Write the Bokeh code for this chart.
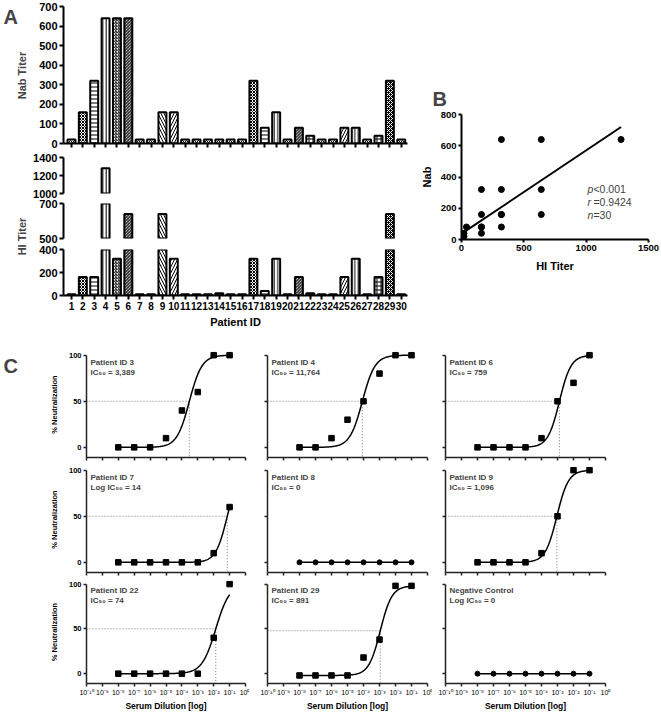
import numpy as np
from bokeh.plotting import figure
from bokeh.models import Range1d, FixedTicker, ColumnDataSource, Label, CustomJSTickFormatter
from bokeh.layouts import row, column
from bokeh.embed import file_html
from bokeh.resources import INLINE

FONT = "Liberation Sans"

# ---------------- data ----------------
patients = list(range(1, 31))
nab_titer = [20, 160, 320, 640, 640, 640, 20, 20, 160, 160, 20, 20, 20, 20, 20,
             20, 320, 80, 160, 20, 80, 40, 20, 20, 80, 80, 20, 40, 320, 20]
hi_titer = [10, 160, 160, 1280, 320, 640, 10, 10, 640, 320, 10, 10, 10, 20, 10,
            10, 320, 40, 320, 10, 160, 20, 10, 10, 160, 320, 10, 160, 640, 10]
nab_ticks = [0, 100, 200, 300, 400, 500, 600, 700]
hi_top_ticks = [1000, 1200, 1400]
hi_mid_ticks = [500, 700]
hi_bot_ticks = [0, 200, 400]
b_xticks = [0, 500, 1000, 1500]
b_yticks = [0, 200, 400, 600, 800]
stats_lines = [("p", "<0.001"), ("r", "=0.9424"), ("n", "=30")]

dilutions = [1e-8, 1e-7, 1e-6, 1e-5, 1e-4, 1e-3, 1e-2, 1e-1]
dil_ticks = [1e-10, 1e-9, 1e-8, 1e-7, 1e-6, 1e-5, 1e-4, 1e-3, 1e-2, 1e-1, 1e0]
neut_ticks = [0, 50, 100]
c_names = ["Patient ID 3", "Patient ID 4", "Patient ID 6",
           "Patient ID 7", "Patient ID 8", "Patient ID 9",
           "Patient ID 22", "Patient ID 29", "Negative Control"]
c_ic50_text = ["IC\u2085\u2080 = 3,389", "IC\u2085\u2080 = 11,764", "IC\u2085\u2080 = 759",
               "Log IC\u2085\u2080 = 14", "IC\u2085\u2080 = 0", "IC\u2085\u2080 = 1,096",
               "IC\u2085\u2080 = 74", "IC\u2085\u2080 = 891", "Log IC\u2085\u2080 = 0"]
neut_p3 = [0, 0, 0, 10, 40, 60, 100, 100]
neut_p4 = [0, 0, 10, 30, 50, 80, 100, 100]
neut_p6 = [0, 0, 0, 0, 10, 50, 70, 100]
neut_p7 = [0, 0, 0, 0, 0, 0, 10, 60]
neut_p8 = [0, 0, 0, 0, 0, 0, 0, 0]
neut_p9 = [0, 0, 0, 0, 10, 50, 100, 100]
neut_p22 = [0, 0, 0, 0, 0, 0, 40, 100]
neut_p29 = [-2, -2, -2, -2, 18, 38, 98, 98]
neut_neg = [0, 0, 0, 0, 0, 0, 0, 0]
c_values = [neut_p3, neut_p4, neut_p6, neut_p7, neut_p8, neut_p9, neut_p22, neut_p29, neut_neg]
# fitted IC50 titers (reciprocal dilution) and hill slopes; None = no fit
c_ic50 = [3389, 11764, 759, 14, None, 1096, 74, 891, None]
c_hill = [1.1, 1.1, 1.2, 1.2, None, 1.2, 1.0, 1.2, None]
c_bottom = [0, 0, 0, 0, None, 0, 0, -2, None]
c_top = [100, 100, 100, 100, None, 100, 100, 98, None]

# ---------------- styles ----------------
bar_hatch = ["x", "x", "-", "|", "/", "\\", "x", "x", "\\", "/",
             "x", "x", "x", "x", "x", "x", "x", "-", "|", "x",
             "\\", "+", "x", "x", "/", "|", "x", "+", "x", "x"]
bar_hscale = [4, 3, 4, 3.5, 3, 3, 4, 4, 6, 6,
              4, 4, 4, 4, 4, 4, 3, 4, 3.5, 4,
              3, 4, 4, 4, 6, 3.5, 4, 4, 4, 4]
bar_fill = ["white"] * 30
bar_fill[28] = "black"
bar_hcolor = ["black"] * 30
bar_hcolor[28] = "white"


def style_axis(ax, width=2, size="10px", bold=True, tick_out=4, color="black"):
    ax.axis_line_width = width
    ax.axis_line_color = color
    ax.major_tick_line_width = width
    ax.major_tick_line_color = color
    ax.major_tick_out = tick_out
    ax.major_tick_in = 0
    ax.minor_tick_line_color = None
    ax.major_label_text_font = FONT
    ax.major_label_text_font_size = size
    ax.major_label_text_font_style = "bold" if bold else "normal"
    ax.major_label_text_color = "black"
    ax.major_label_standoff = 2
    ax.axis_label_text_font = FONT
    ax.axis_label_text_font_style = "bold"
    ax.axis_label_text_color = "black"


def hide_labels(ax):
    ax.major_label_text_color = None
    ax.major_label_text_font_size = "1px"
    ax.major_label_standoff = 0


def base_fig(**kw):
    p = figure(output_backend="svg", toolbar_location=None, **kw)
    p.outline_line_color = None
    p.xgrid.grid_line_color = None
    p.ygrid.grid_line_color = None
    p.border_fill_color = "white"
    p.background_fill_color = "white"
    return p


def blank_fig(w, h):
    return base_fig(width=w, height=h, x_range=Range1d(0, 1), y_range=Range1d(0, 1),
                    x_axis_location=None, y_axis_location=None, min_border=0,
                    min_border_left=0, min_border_right=0, min_border_top=0,
                    min_border_bottom=0)


def bar_source(vals, lo):
    idx = [i for i, v in enumerate(vals) if v > lo]
    return ColumnDataSource(dict(pid=[patients[i] for i in idx], top=[vals[i] for i in idx],
                                 fill=[bar_fill[i] for i in idx], hatch=[bar_hatch[i] for i in idx],
                                 hscale=[bar_hscale[i] for i in idx],
                                 hcolor=[bar_hcolor[i] for i in idx]))


xr = Range1d(0.3, 30.55)


def add_bars(p, vals, lo):
    p.vbar(x="pid", top="top", bottom=0, width=0.7, source=bar_source(vals, lo),
           fill_color="fill", line_color="black", line_width=2, hatch_pattern="hatch",
           hatch_scale="hscale", hatch_color="hcolor", hatch_weight=1)


# ---------------- panel A labels column ----------------
lab = blank_fig(30, 330)
lab.add_layout(Label(x=3, y=314, x_units="screen", y_units="screen", text="A",
                     text_font=FONT, text_font_size="20px", text_font_style="bold",
                     text_baseline="middle", text_align="left"))
lab.add_layout(Label(x=21, y=255, x_units="screen", y_units="screen", text="Nab Titer",
                     angle=np.pi / 2, text_font=FONT, text_font_size="11px",
                     text_font_style="bold", text_baseline="middle", text_align="center"))
lab.add_layout(Label(x=21, y=94, x_units="screen", y_units="screen", text="HI Titer",
                     angle=np.pi / 2, text_font=FONT, text_font_size="11px",
                     text_font_style="bold", text_baseline="middle", text_align="center"))

# ---------------- panel A: Nab titer ----------------
nab = base_fig(width=380, height=153, x_range=xr, y_range=Range1d(0, 700),
               min_border_left=32, min_border_right=3, min_border_top=6, min_border_bottom=10)
add_bars(nab, nab_titer, -1)
style_axis(nab.yaxis[0], size="11px")
style_axis(nab.xaxis[0])
nab.yaxis.ticker = FixedTicker(ticks=nab_ticks)
nab.xaxis.ticker = FixedTicker(ticks=patients)
hide_labels(nab.xaxis[0])

# ---------------- panel A: HI titer (broken axis) ----------------
hi_top = base_fig(width=380, height=45, x_range=xr, y_range=Range1d(1000, 1400),
                  x_axis_location=None, min_border_left=32, min_border_right=3,
                  min_border_top=4, min_border_bottom=5)
add_bars(hi_top, hi_titer, 1000)
style_axis(hi_top.yaxis[0], size="11px")
hi_top.yaxis.ticker = FixedTicker(ticks=hi_top_ticks)

hi_mid = base_fig(width=380, height=45, x_range=xr, y_range=Range1d(500, 700),
                  x_axis_location=None, min_border_left=32, min_border_right=3,
                  min_border_top=5, min_border_bottom=5)
add_bars(hi_mid, hi_titer, 500)
style_axis(hi_mid.yaxis[0], size="11px")
hi_mid.yaxis.ticker = FixedTicker(ticks=hi_mid_ticks)

hi_bot = base_fig(width=380, height=87, x_range=xr, y_range=Range1d(0, 400),
                  min_border_left=32, min_border_right=3, min_border_top=6, min_border_bottom=35)
add_bars(hi_bot, hi_titer, -1)
style_axis(hi_bot.yaxis[0], size="11px")
style_axis(hi_bot.xaxis[0], size="10px")
hi_bot.yaxis.ticker = FixedTicker(ticks=hi_bot_ticks)
hi_bot.xaxis.ticker = FixedTicker(ticks=patients)
hi_bot.xaxis.axis_label = "Patient ID"
hi_bot.xaxis.axis_label_text_font_size = "11px"
hi_bot.xaxis.axis_label_standoff = 3

a_block = row(lab, column(nab, hi_top, hi_mid, hi_bot))

# ---------------- panel B ----------------
bfig = base_fig(width=251, height=279, x_range=Range1d(0, 1500), y_range=Range1d(0, 800),
                title="B", min_border_left=51, min_border_right=13, min_border_top=114,
                min_border_bottom=40)
bfig.title.text_font = FONT
bfig.title.text_font_size = "20px"
bfig.title.text_font_style = "bold"
bfig.title.align = "left"
bfig.title.offset = -29
bfig.title.standoff = 10
style_axis(bfig.xaxis[0], size="9.5px", tick_out=3)
style_axis(bfig.yaxis[0], size="9.5px", tick_out=3)
bfig.xaxis.ticker = FixedTicker(ticks=b_xticks)
bfig.yaxis.ticker = FixedTicker(ticks=b_yticks)
bfig.xaxis.axis_label = "HI Titer"
bfig.yaxis.axis_label = "Nab"
bfig.xaxis.axis_label_text_font_size = "11px"
bfig.yaxis.axis_label_text_font_size = "11px"
bfig.xaxis.axis_label_standoff = 6
bfig.yaxis.axis_label_standoff = 5
hx = np.array(hi_titer, dtype=float)
ny = np.array(nab_titer, dtype=float)
slope, icpt = np.polyfit(hx, ny, 1)
lx = np.array([hx.min(), hx.max()])
bfig.line(lx, slope * lx + icpt, line_color="black", line_width=2)
bfig.scatter(hi_titer, nab_titer, marker="circle", size=6, color="black")
for i, (sym, rest) in enumerate(stats_lines):
    yy = 326 - i * 86
    bfig.add_layout(Label(x=1010, y=yy, text=sym, text_font=FONT, text_font_size="10.5px",
                          text_font_style="italic", text_baseline="middle"))
    bfig.add_layout(Label(x=1010, y=yy, x_offset=6, text=rest, text_font=FONT,
                          text_font_size="10.5px", text_baseline="middle"))

top = row(a_block, bfig)

# ---------------- panel C ----------------
sup_fmt = CustomJSTickFormatter(code="""
const m = {"-":"\u207b","0":"\u2070","1":"\u00b9","2":"\u00b2","3":"\u00b3","4":"\u2074",
           "5":"\u2075","6":"\u2076","7":"\u2077","8":"\u2078","9":"\u2079"};
const e = Math.round(Math.log10(tick));
return "10" + String(e).split("").map(c => m[c]).join("");
""")

col_w = [225, 183, 185]
col_l = [62, 18, 13]
col_r = [4, 5, 12]
row_t = [21, 2, 2]
row_bb = [7, 6, 27]
frame_h = 106

c_lab = blank_fig(24, 383)
c_lab.add_layout(Label(x=3, y=383 - 35, x_units="screen", y_units="screen", text="C",
                       text_font=FONT, text_font_size="20px", text_font_style="bold",
                       text_baseline="middle", text_align="left"))

c_rows = []
for r in range(3):
    figs = []
    for c in range(3):
        k = r * 3 + c
        hh = row_t[r] + frame_h + row_bb[r]
        p = base_fig(width=col_w[c], height=hh, x_axis_type="log",
                     x_range=Range1d(1e-10, 1e0), y_range=Range1d(-11, 104),
                     min_border_left=col_l[c], min_border_right=col_r[c],
                     min_border_top=row_t[r], min_border_bottom=row_bb[r])
        style_axis(p.xaxis[0], width=1.5, size="7px", bold=False, tick_out=3, color="#222")
        style_axis(p.yaxis[0], width=1.5, size="7.5px", bold=True, tick_out=3, color="#222")
        p.xaxis.ticker = FixedTicker(ticks=dil_ticks)
        p.yaxis.ticker = FixedTicker(ticks=neut_ticks)
        p.yaxis.bounds = (-11, 100)
        if r == 2:
            p.xaxis.formatter = sup_fmt
            p.xaxis.axis_label = "Serum Dilution [log]"
            p.xaxis.axis_label_text_font_size = "8.5px"
            p.xaxis.axis_label_standoff = 2
        else:
            hide_labels(p.xaxis[0])
        if c == 0:
            p.yaxis.axis_label = "% Neutralization"
            p.yaxis.axis_label_text_font_size = "7.5px"
            p.yaxis.axis_label_standoff = 7
        else:
            hide_labels(p.yaxis[0])
        vals = c_values[k]
        if c_ic50[k] is not None:
            L = -np.log10(c_ic50[k])
            h = c_hill[k]
            bot, tp = c_bottom[k], c_top[k]
            mid = (bot + tp) / 2
            p.line([1e-10, 10 ** L], [mid, mid], line_color="#555", line_width=0.8,
                   line_dash="1 2")
            p.line([10 ** L, 10 ** L], [mid, -11], line_color="#555", line_width=0.8,
                   line_dash="1 2")
            lxs = np.linspace(np.log10(dilutions[0]), np.log10(dilutions[-1]), 200)
            ly = bot + (tp - bot) / (1 + 10 ** ((L - lxs) * h))
            p.line(10 ** lxs, ly, line_color="black", line_width=1.5)
            p.scatter(dilutions, vals, marker="square", size=5.5, color="black")
        else:
            p.line(dilutions, vals, line_color="black", line_width=1.5)
            p.scatter(dilutions, vals, marker="circle", size=5, color="black")
        p.add_layout(Label(x=4, y=92.5, x_units="screen", text=c_names[k], text_font=FONT,
                           text_font_size="8px", text_font_style="bold", text_baseline="middle"))
        p.add_layout(Label(x=4, y=81.5, x_units="screen", text=c_ic50_text[k], text_font=FONT,
                           text_font_size="8px", text_font_style="bold", text_baseline="middle"))
        figs.append(p)
    c_rows.append(row(*figs))

c_block = row(c_lab, column(*c_rows))
root = column(top, c_block)
open("out.html", "w").write(file_html(root, INLINE))
